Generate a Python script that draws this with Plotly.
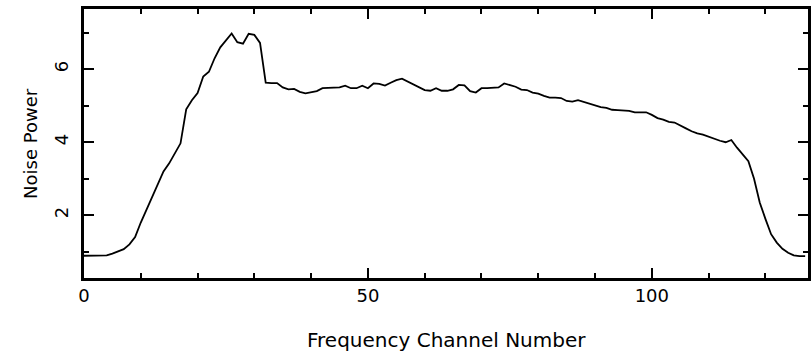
import plotly.graph_objects as go

# Noise power per frequency channel (128 channels)
channels = list(range(128))
noise_power = [
    0.89, 0.89, 0.89, 0.89, 0.90, 0.95, 1.00, 1.07, 1.20, 1.40,
    1.80, 2.15, 2.50, 2.80, 3.20, 3.42, 3.70, 3.97, 4.90, 5.15,
    5.35, 5.80, 5.93, 6.30, 6.60, 6.78, 6.98, 6.74, 6.70, 6.97,
    6.94, 6.72, 5.63, 5.62, 5.62, 5.50, 5.45, 5.46, 5.38, 5.34,
    5.36, 5.40, 5.48, 5.49, 5.49, 5.50, 5.55, 5.48, 5.48, 5.55,
    5.48, 5.61, 5.60, 5.55, 5.63, 5.70, 5.74, 5.66, 5.58, 5.50,
    5.43, 5.41, 5.48, 5.41, 5.41, 5.45, 5.57, 5.56, 5.40, 5.36,
    5.48, 5.48, 5.49, 5.50, 5.61, 5.56, 5.52, 5.44, 5.43, 5.36,
    5.33, 5.27, 5.22, 5.22, 5.21, 5.13, 5.11, 5.15, 5.10, 5.07,
    5.00, 4.96, 4.94, 4.89, 4.88, 4.88, 4.86, 4.82, 4.82, 4.82,
    4.75, 4.66, 4.62, 4.56, 4.54, 4.47, 4.38, 4.30, 4.24, 4.21,
    4.15, 4.09, 4.04, 4.00, 4.06, 3.85, 3.68, 3.48, 3.00, 2.35,
    1.90, 1.48, 1.25, 1.08, 0.97, 0.90, 0.88, 0.88,
]

x_ticks = [0, 50, 100]
y_ticks = [2, 4, 6]

FONT = "DejaVu Sans"

fig = go.Figure(
    go.Scatter(
        x=channels,
        y=noise_power,
        mode="lines",
        line=dict(color="black", width=1.8),
        hoverinfo="skip",
    )
)

axis_common = dict(
    showgrid=False,
    zeroline=False,
    showline=True,
    linecolor="black",
    linewidth=2.5,
    mirror="ticks",
    ticks="inside",
    ticklen=10,
    tickwidth=2,
    tickcolor="black",
    tickfont=dict(family=FONT, size=18, color="black"),
)

fig.update_xaxes(
    **axis_common,
    range=[0, 127.5],
    tickvals=x_ticks,
    ticktext=[str(v) for v in x_ticks],
    minor=dict(ticks="inside", ticklen=5, tickwidth=2, tickcolor="black", dtick=10, tick0=0),
)
fig.update_yaxes(
    **axis_common,
    range=[0.28, 7.65],
    tickvals=y_ticks,
    ticktext=[str(v) for v in y_ticks],
    tickangle=-90,
    ticklabelstandoff=6,
    minor=dict(ticks="inside", ticklen=5, tickwidth=2, tickcolor="black", dtick=1, tick0=1),
)

fig.update_layout(
    width=811,
    height=360,
    margin=dict(l=84, r=0, t=9, b=82),
    paper_bgcolor="white",
    plot_bgcolor="white",
    showlegend=False,
    annotations=[
        dict(
            text="Frequency Channel Number",
            xref="paper", yref="paper",
            x=0.5, y=-0.23,
            xanchor="center", yanchor="middle",
            showarrow=False,
            font=dict(family=FONT, size=20, color="black"),
        ),
        dict(
            text="Noise Power",
            xref="paper", yref="paper",
            x=-0.074, y=0.5,
            xanchor="center", yanchor="middle",
            textangle=-90,
            showarrow=False,
            font=dict(family=FONT, size=18, color="black"),
        ),
    ],
)

fig.write_html("out.html")
